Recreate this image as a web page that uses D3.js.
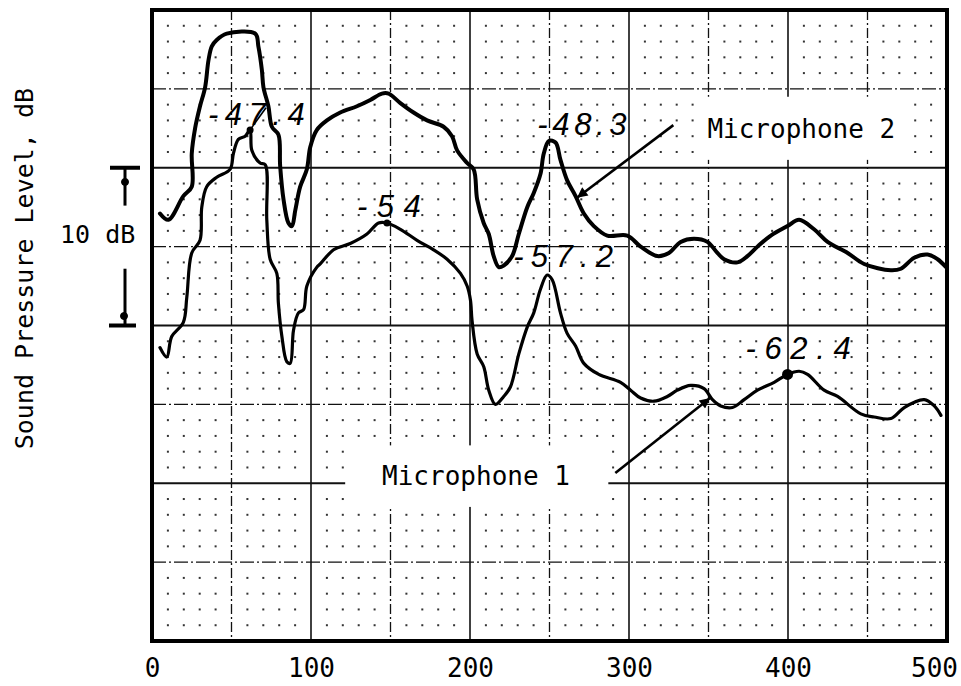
<!DOCTYPE html>
<html>
<head>
<meta charset="utf-8">
<script src="https://cdnjs.cloudflare.com/ajax/libs/d3/7.8.5/d3.min.js"></script>
<style>
  body { margin: 0; background: #fff; }
  svg { display: block; }
</style>
</head>
<body>
<svg id="chart" width="961" height="686"></svg>
<script>
// frequency axis labels
var xTicks = [0, 100, 200, 300, 400, 500];

// Microphone 2 (upper trace), dB
var mic2Freq = [5,10.3,19.7,25,25,27.1,30.2,33.4,35.5,37.6,40.7,47,64.9,66.9,69.1,70.1,73.2,75.4,79.5,80.6,82.7,85.8,88,90.1,93.2,97.4,99.5,103.7,110,118.4,128.9,137.3,144.6,148.8,156.2,164.5,173,183.4,188.7,191.9,198.2,202.3,204.5,208.6,211.8,214.9,218.1,221.2,226.5,230.7,236,240.1,244.3,246.4,249.6,253.8,256.9,261.1,266.4,271.6,277.9,286.3,298.9,307.3,317.8,325.1,332.5,340.9,349.3,355.6,359.8,368.2,374.5,380.8,389.2,399.7,407,416.4,424.9,437.5,447.9,464.7,471,479.4,487.8,494.1,499.4];
var mic2Level = [-52.9,-53.3,-51.8,-51.2,-49.1,-47.5,-46.1,-44.9,-43.2,-42.3,-41.9,-41.5,-41.5,-42.3,-43.8,-44.9,-46.1,-47.4,-47.9,-49.9,-52.0,-53.5,-53.7,-52.7,-51.2,-50.1,-48.7,-47.6,-47.0,-46.5,-46.1,-45.7,-45.3,-45.3,-45.9,-46.5,-47.0,-47.4,-48.0,-48.9,-49.7,-50.1,-52.0,-53.5,-54.2,-55.6,-56.3,-56.2,-55.6,-54.2,-52.5,-51.6,-50.4,-49.1,-48.3,-48.4,-49.5,-50.8,-51.8,-52.9,-53.7,-54.3,-54.3,-55.0,-55.6,-55.4,-54.7,-54.5,-54.7,-55.4,-55.8,-56.0,-55.6,-55.0,-54.3,-53.7,-53.3,-53.9,-54.7,-55.4,-56.1,-56.5,-56.4,-55.7,-55.5,-55.8,-56.3];

// Microphone 1 (lower trace)
var mic1Freq = [5,9.3,12.4,19.7,21.9,25,30.2,31.3,34.4,40.7,49.1,51.2,54.3,58.6,61.7,62.8,68,71.2,72.2,74.3,78.5,79.5,81.7,84.8,86.9,89,92.1,95.3,97.4,103.7,105.8,114.2,124.7,135.2,142.5,147.8,156.2,166.7,177.1,185.6,194,198.2,200.3,201.3,204.5,208.6,211.8,216,221.2,225.4,230.7,236,240.1,244.3,248.5,251.7,256.9,261.1,266.4,271.6,281,294.7,301,307.3,315.7,324.1,330.4,338.8,347.2,352.5,357.7,365.1,372.4,380.8,391.3,399.7,407,412.3,422.7,431.2,445.8,454.2,464.7,473.1,485.7,492,496.2];
var mic1Level = [-61.4,-62.0,-60.7,-59.8,-58.2,-55.4,-54.6,-52.5,-51.2,-50.6,-50.1,-49.1,-48.2,-48.0,-47.6,-48.9,-49.7,-49.8,-53.3,-55.8,-56.7,-58.6,-60.7,-62.3,-62.4,-60.3,-59.2,-59.0,-57.5,-56.3,-56.1,-55.2,-54.8,-54.2,-53.5,-53.5,-53.9,-54.6,-55.2,-55.8,-56.7,-57.5,-58.4,-59.7,-61.8,-62.6,-64.1,-65.0,-64.5,-63.9,-61.8,-60.1,-59.2,-57.7,-56.8,-57.1,-59.2,-60.5,-61.3,-62.4,-63.1,-63.6,-64.1,-64.6,-64.8,-64.5,-64.1,-63.8,-64.0,-64.7,-65.1,-65.2,-64.7,-64.1,-63.6,-63.1,-62.9,-63.1,-64.1,-64.5,-65.6,-65.8,-65.9,-65.2,-64.7,-65.1,-65.7];

// hand written level notes
var noteText = ["-47.4", "-54", "-48.3", "-57.2", "-62.4"];
var noteFreq = [35.2, 129, 242.3, 227.2, 373.2];
var noteLevel = [-47.3, -53.1, -47.9, -56.3, -62.1];
var noteEnd = [96, 169, 298.5, 290, 439.5];   // where each note ends, Hz

// marked points on the mic 1 trace
var dotFreq = [61.7, 147.8, 399.7];
var dotLevel = [-47.6, -53.5, -63.1];

var margin = {top: 10, left: 152, bottom: 45, right: 14};
var width = 961, height = 686;
var svg = d3.select("#chart");

var xScale = d3.scaleLinear().domain([0, 500]).range([margin.left, width - margin.right]);
var yScale = d3.scaleLinear().domain([-80, -40]).range([height - margin.bottom, margin.top]);

var mono = "'DejaVu Sans Mono', 'Liberation Mono', monospace";
var hand = "'Liberation Sans', 'DejaVu Sans', sans-serif";

//---- graph paper ----
var grid = svg.append("g");
var majX = xScale.ticks(10).filter(function(d) { return d > 0 && d < 500; });
var majY = yScale.ticks(8).filter(function(d) { return d > -80 && d < -40; });

// minor dots every 10 Hz / 1 dB
var dots = [];
xScale.ticks(50).forEach(function(fx) {
  yScale.ticks(40).forEach(function(fy) {
    if (fx % 50 != 0 && fy % 5 != 0) dots.push([fx, fy]);
  });
});
grid.selectAll(".dot").data(dots).enter().append("rect")
  .attr("class", "dot")
  .attr("x", function(d) { return xScale(d[0]) - 1; })
  .attr("y", function(d) { return yScale(d[1]) - 1; })
  .attr("width", 2).attr("height", 2)
  .attr("fill", "#333");

grid.selectAll(".vline").data(majX).enter().append("line")
  .attr("class", "vline")
  .attr("x1", function(d) { return xScale(d); }).attr("x2", function(d) { return xScale(d); })
  .attr("y1", yScale(-40)).attr("y2", yScale(-80))
  .attr("stroke", "#111")
  .attr("stroke-width", function(d) { return d % 100 == 0 ? 1.6 : 1.3; })
  .attr("stroke-dasharray", function(d) { return d % 100 == 0 ? null : "10,3,2,3"; });

grid.selectAll(".hline").data(majY).enter().append("line")
  .attr("class", "hline")
  .attr("y1", function(d) { return yScale(d); }).attr("y2", function(d) { return yScale(d); })
  .attr("x1", xScale(0)).attr("x2", xScale(500))
  .attr("stroke", "#111")
  .attr("stroke-width", function(d) { return d % 10 == 0 ? 1.8 : 1.4; })
  .attr("stroke-dasharray", function(d) { return d % 10 == 0 ? null : "14,3,2,3"; });

// blank patches behind the typed labels
grid.append("rect")
  .attr("x", xScale(341.7)).attr("y", yScale(-45.5))
  .attr("width", xScale(474) - xScale(341.7)).attr("height", yScale(-49.5) - yScale(-45.5))
  .attr("fill", "#fff");
grid.append("rect")
  .attr("x", xScale(121.5)).attr("y", yScale(-67.6))
  .attr("width", xScale(287) - xScale(121.5)).attr("height", yScale(-71.5) - yScale(-67.6))
  .attr("fill", "#fff");

// frame
svg.append("rect")
  .attr("x", xScale(0)).attr("y", yScale(-40))
  .attr("width", xScale(500) - xScale(0)).attr("height", yScale(-80) - yScale(-40))
  .attr("fill", "none").attr("stroke", "#000").attr("stroke-width", 4);

//---- traces ----
var line = d3.line()
  .x(function(d) { return xScale(d[0]); })
  .y(function(d) { return yScale(d[1]); })
  .curve(d3.curveCatmullRom.alpha(0.5));

svg.append("path")
  .datum(d3.zip(mic2Freq, mic2Level))
  .attr("fill", "none").attr("stroke", "#000")
  .attr("stroke-width", 4).attr("stroke-linejoin", "round").attr("stroke-linecap", "round")
  .attr("d", line);

svg.append("path")
  .datum(d3.zip(mic1Freq, mic1Level))
  .attr("fill", "none").attr("stroke", "#000")
  .attr("stroke-width", 3.2).attr("stroke-linejoin", "round").attr("stroke-linecap", "round")
  .attr("d", line);

svg.selectAll(".mark").data(d3.zip(dotFreq, dotLevel)).enter().append("circle")
  .attr("class", "mark")
  .attr("cx", function(d) { return xScale(d[0]); })
  .attr("cy", function(d) { return yScale(d[1]); })
  .attr("r", function(d, i) { return i == 2 ? 5.5 : 3.5; })
  .attr("fill", "#000");

//---- notes ----
svg.selectAll(".note").data(d3.zip(noteText, noteFreq, noteLevel, noteEnd)).enter().append("text")
  .attr("class", "note")
  .attr("x", function(d) { return xScale(d[1]); })
  .attr("y", function(d) { return yScale(d[2]); })
  .attr("textLength", function(d) { return xScale(d[3]) - xScale(d[1]); })
  .attr("lengthAdjust", "spacing")
  .attr("font-family", hand)
  .attr("font-style", "italic")
  .attr("font-size", 31)
  .attr("fill", "#000")
  .text(function(d) { return d[0]; });

// tail of the 7 in -47.4 that runs down to the marked point
svg.append("line")
  .attr("x1", xScale(71.7)).attr("y1", yScale(-46.2))
  .attr("x2", xScale(61.7)).attr("y2", yScale(-47.6))
  .attr("stroke", "#000").attr("stroke-width", 1.6);

svg.append("defs").append("marker")
  .attr("id", "head")
  .attr("viewBox", "0 0 10 10").attr("refX", 10).attr("refY", 5)
  .attr("markerWidth", 6).attr("markerHeight", 4)
  .attr("orient", "auto").attr("markerUnits", "strokeWidth")
  .append("path").attr("d", "M0,0 L10,5 L0,10 z").attr("fill", "#000");

// pointers from the typed labels
var pointers = [[327.9, -47.3, 267.3, -51.9], [291.4, -69.35, 351.0, -64.6]];
svg.selectAll(".ptr").data(pointers).enter().append("line")
  .attr("class", "ptr")
  .attr("x1", function(d) { return xScale(d[0]); }).attr("y1", function(d) { return yScale(d[1]); })
  .attr("x2", function(d) { return xScale(d[2]); }).attr("y2", function(d) { return yScale(d[3]); })
  .attr("stroke", "#000").attr("stroke-width", 2.6)
  .attr("marker-end", "url(#head)");

svg.append("text")
  .attr("x", xScale(349.3)).attr("y", yScale(-48.1))
  .attr("font-family", mono).attr("font-size", 26)
  .text("Microphone 2");
svg.append("text")
  .attr("x", xScale(144.7)).attr("y", yScale(-70.1))
  .attr("font-family", mono).attr("font-size", 26)
  .text("Microphone 1");

//---- axes ----
var xAxisCall = d3.axisBottom(xScale).tickValues(xTicks).tickSize(0).tickPadding(18);
var xAxis = svg.append("g")
  .attr("transform", "translate(0," + yScale(-80) + ")")
  .call(xAxisCall);
xAxis.select(".domain").remove();
xAxis.selectAll("text")
  .attr("font-family", mono).attr("font-size", 26).attr("fill", "#000");
xAxis.selectAll(".tick:last-of-type text").attr("dx", -13);

svg.append("text")
  .attr("transform", "translate(33," + 88 + ")rotate(-90)")
  .attr("text-anchor", "end")
  .attr("font-family", mono).attr("font-size", 25)
  .text("Sound Pressure Level,  dB");

// 10 dB scale bar
var bar = svg.append("g").attr("stroke", "#000");
bar.append("line").attr("x1", 110).attr("x2", 140).attr("y1", yScale(-50)).attr("y2", yScale(-50)).attr("stroke-width", 4);
bar.append("line").attr("x1", 125).attr("x2", 125).attr("y1", yScale(-50)).attr("y2", yScale(-52.4)).attr("stroke-width", 3);
bar.append("line").attr("x1", 109).attr("x2", 136).attr("y1", yScale(-60)).attr("y2", yScale(-60)).attr("stroke-width", 4);
bar.append("line").attr("x1", 125).attr("x2", 125).attr("y1", yScale(-56.4)).attr("y2", yScale(-60)).attr("stroke-width", 3);
bar.append("circle").attr("cx", 125).attr("cy", yScale(-50.9)).attr("r", 3.5).attr("fill", "#000");
bar.append("circle").attr("cx", 124).attr("cy", yScale(-59.4)).attr("r", 3.5).attr("fill", "#000");
svg.append("text")
  .attr("x", 60).attr("y", yScale(-54.8))
  .attr("font-family", mono).attr("font-size", 25)
  .text("10 dB");
</script>
</body>
</html>
